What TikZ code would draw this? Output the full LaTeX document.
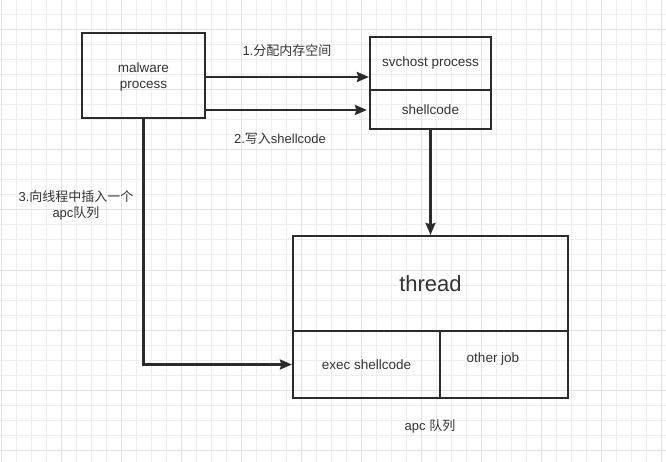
\documentclass[tikz,border=0pt]{standalone}
\usepackage{fontspec}
\setmainfont{Liberation Sans}
\newfontfamily\cjk{Noto Sans CJK SC}
\usetikzlibrary{arrows.meta}
\definecolor{ink}{HTML}{2B2B2B}
\definecolor{txt}{HTML}{333333}
\definecolor{gridminor}{HTML}{EEEEEE}
\definecolor{gridmajor}{HTML}{E2E2E2}
\begin{document}
\begin{tikzpicture}[x=1pt,y=-1pt,
  box/.style={draw=ink, line width=2.2pt, text=txt, inner sep=0pt, align=center,
    font=\fontsize{13.5}{16}\selectfont},
  lbl/.style={text=txt, inner sep=0pt, align=center,
    font=\fontsize{13}{16}\selectfont},
  arr/.style={draw=ink, line width=2.2pt, -{Stealth[length=12pt,width=10pt,inset=1.5pt]}}]
\fill[white] (0,0) rectangle (666,462);
\useasboundingbox (0,0) rectangle (666,462);
% grid
\foreach \k in {0,...,44} \draw[gridminor, line width=1pt] (1.7+15*\k,0) -- (1.7+15*\k,462);
\foreach \k in {0,...,30} \draw[gridminor, line width=1pt] (0,15*\k) -- (666,15*\k);
\foreach \k in {0,...,11} \draw[gridmajor, line width=1pt] (1.7+60*\k,0) -- (1.7+60*\k,462);
\foreach \k in {0,...,7} \draw[gridmajor, line width=1pt] (0,30+60*\k) -- (666,30+60*\k);
% boxes
\node[box, minimum width=123pt, minimum height=85pt] (malware) at (143.5,75.5) {};
\node[lbl, font=\fontsize{13.5}{15.5}\selectfont] (malwaretext) at (143.5,77) {malware\\process};
\node[box, minimum width=121pt, minimum height=53pt] (svchost) at (430.5,63.5) {svchost process};
\node[box, minimum width=121pt, minimum height=39pt] (shellcode) at (430.5,109.5) {shellcode};
\node[box, minimum width=275pt, minimum height=95pt, font=\fontsize{22}{26}\selectfont] (thread) at (430.5,283.5) {thread};
\node[box, minimum width=147pt, minimum height=67pt] (exec) at (366.5,364.5) {exec shellcode};
\node[box, minimum width=128pt, minimum height=67pt] (other) at (504,364.5) {};
\node[lbl, font=\fontsize{13.5}{16}\selectfont] (otherjob) at (493,359) {other job};
% connectors
\draw[arr] (malware.east |- 0,77) -- (svchost.west |- 0,77);
\draw[arr] (malware.east |- 0,110) -- ([xshift=-2pt]shellcode.west |- 0,110);
\draw[arr] (shellcode.south) -- (thread.north);
\draw[arr] (malware.south) |- (exec.west);
% labels
\node[lbl] (l1) at (287,51) {1.{\cjk 分配内存空间}};
\node[lbl] (l2) at (280,139) {2.{\cjk 写入}shellcode};
\node[lbl] (l3) at (76,205.5) {3.{\cjk 向线程中插入一个}\\apc{\cjk 队列}};
\node[lbl] (l4) at (430,426) {apc {\cjk 队列}};
\end{tikzpicture}
\end{document}
